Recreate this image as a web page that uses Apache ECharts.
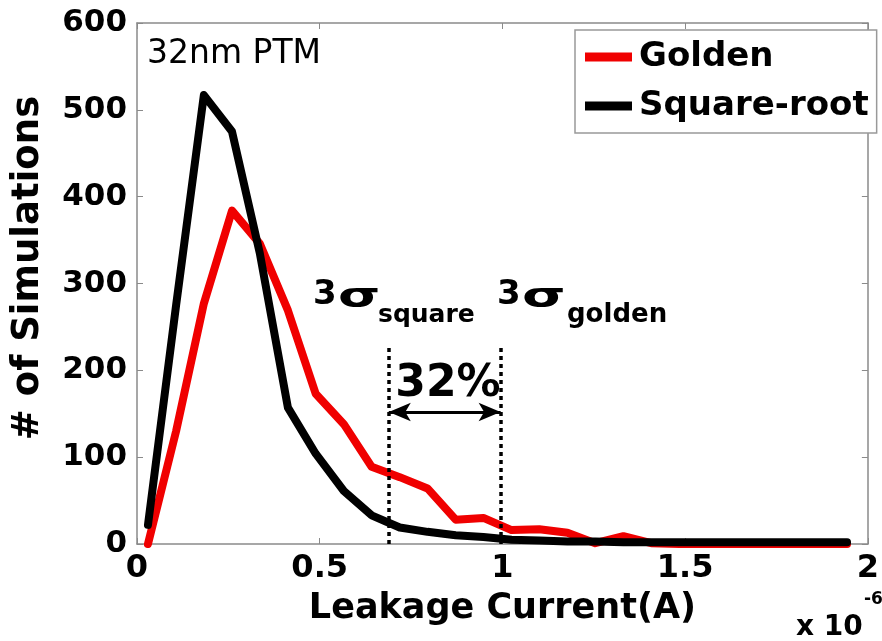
<!DOCTYPE html>
<html>
<head>
<meta charset="utf-8">
<script src="https://cdn.jsdelivr.net/npm/echarts@6/dist/echarts.min.js"></script>
<style>
  html, body { margin: 0; padding: 0; background: #fff; }
  #chart { width: 882px; height: 641px; }
</style>
</head>
<body>
<div id="chart"></div>
<script>
// Leakage current histogram bin centres (x 1e-6 A)
const current = [0.03, 0.107, 0.183, 0.26, 0.336, 0.413, 0.489, 0.566, 0.642, 0.719,
                 0.795, 0.872, 0.948, 1.025, 1.101, 1.178, 1.254, 1.331, 1.407, 1.484,
                 1.56, 1.637, 1.713, 1.79, 1.866, 1.943];
// Number of simulations per bin
const golden = [0, 130, 277, 384, 346, 269, 173, 138, 89, 77,
                64, 28, 30, 16, 17, 13, 1, 9, 1, 0,
                0, 0, 0, 0, 0, 0];
const squareRoot = [22, 275, 517, 475, 335, 157, 104, 61, 33, 19,
                    14, 10, 8, 5, 4, 3, 3, 2, 2, 2,
                    2, 2, 2, 2, 2, 2];
const seriesNames = ['Golden', 'Square-root'];
const xTicks = [0, 0.5, 1, 1.5, 2];
const yTicks = [0, 100, 200, 300, 400, 500, 600];

// 3-sigma markers and the gap between them
const sigmaSquare = 0.689;
const sigmaGolden = 0.995;
const sigmaLineTop = 229;
const arrowLevel = 152;

const FONT = 'DejaVu Sans';
const axisGray = '#8a8a8a';

const pairs = (xs, ys) => xs.map((x, i) => [x, ys[i]]);

const chart = echarts.init(document.getElementById('chart'), null, { renderer: 'canvas' });

const baseX = {
  type: 'value', min: xTicks[0], max: xTicks[xTicks.length - 1], interval: 0.5,
  splitLine: { show: false },
  axisLine: { show: true, onZero: false, lineStyle: { color: axisGray, width: 1.5 } },
  axisTick: { show: true, inside: true, length: 6, lineStyle: { color: axisGray } }
};
const baseY = {
  type: 'value', min: yTicks[0], max: yTicks[yTicks.length - 1], interval: 100,
  splitLine: { show: false },
  axisLine: { show: true, onZero: false, lineStyle: { color: axisGray, width: 1.5 } },
  axisTick: { show: true, inside: true, length: 6, lineStyle: { color: axisGray } }
};

// bold annotation text helper
const bold = (text, x, y, size, extra) => Object.assign({
  type: 'text', x: x, y: y,
  style: { text: text, fontFamily: FONT, fontWeight: 'bold', fontSize: size, fill: '#000', verticalAlign: 'middle' }
}, extra || {});

chart.setOption({
  animation: false,
  backgroundColor: '#ffffff',
  grid: { left: 137, right: 5, top: 23, bottom: 97, containLabel: false },
  legend: {
    data: seriesNames,
    orient: 'vertical',
    left: 575, top: 30,
    padding: [10, 8, 10, 10],
    itemGap: 15,
    itemWidth: 47, itemHeight: 9,
    icon: 'rect',
    borderColor: '#999', borderWidth: 1.5,
    backgroundColor: '#fff',
    textStyle: { fontFamily: FONT, fontWeight: 'bold', fontSize: 34, color: '#000', padding: [0, 0, 0, 2] }
  },
  xAxis: [
    Object.assign({}, baseX, {
      position: 'bottom',
      axisLabel: {
        margin: 9, fontFamily: FONT, fontWeight: 'bold', fontSize: 32, color: '#000',
        formatter: v => String(v)
      },
      name: 'Leakage Current(A)', nameLocation: 'middle', nameGap: 47,
      nameTextStyle: { fontFamily: FONT, fontWeight: 'bold', fontSize: 35, color: '#000', padding: [0, 0, 0, 0] }
    }),
    Object.assign({}, baseX, { position: 'top', axisLabel: { show: false } })
  ],
  yAxis: [
    Object.assign({}, baseY, {
      position: 'left',
      axisLabel: { margin: 10, fontFamily: FONT, fontWeight: 'bold', fontSize: 31, color: '#000' }
    }),
    Object.assign({}, baseY, { position: 'right', axisLabel: { show: false } })
  ],
  series: [
    {
      name: seriesNames[0], type: 'line', data: pairs(current, golden),
      xAxisIndex: 0, yAxisIndex: 0,
      showSymbol: false, symbol: 'none',
      color: '#f00000',
      lineStyle: { color: '#f00000', width: 8, join: 'round', cap: 'round' },
      z: 2
    },
    {
      name: seriesNames[1], type: 'line', data: pairs(current, squareRoot),
      xAxisIndex: 0, yAxisIndex: 0,
      showSymbol: false, symbol: 'none',
      color: '#000000',
      lineStyle: { color: '#000000', width: 8, join: 'round', cap: 'round' },
      z: 3,
      markLine: {
        silent: true,
        symbol: ['none', 'none'],
        label: { show: false },
        lineStyle: { color: '#000', width: 3.5, type: [4, 4] },
        data: [
          [{ coord: [sigmaSquare, 0] }, { coord: [sigmaSquare, sigmaLineTop] }],
          [{ coord: [sigmaGolden, 0] }, { coord: [sigmaGolden, sigmaLineTop] }],
          [
            { coord: [sigmaSquare, arrowLevel], symbol: 'arrow', symbolSize: [14, 22],
              lineStyle: { type: 'solid', width: 3 } },
            { coord: [sigmaGolden, arrowLevel], symbol: 'arrow', symbolSize: [14, 22] }
          ]
        ]
      }
    }
  ],
  graphic: [
    { type: 'text', left: 147, top: 38,
      style: { text: '32nm PTM', fontFamily: FONT, fontSize: 33, fill: '#000' } },
    bold('3', 313, 295, 34),
    bold('σ', 338, 298, 34, { scaleX: 1.6 }),
    bold('square', 378, 315, 25),
    bold('3', 497, 295, 34),
    bold('σ', 522, 298, 34, { scaleX: 1.65 }),
    bold('golden', 567, 315, 26),
    { type: 'text', x: 448, y: 385,
      style: { text: '32%', fontFamily: FONT, fontWeight: 'bold', fontSize: 44, fill: '#000', align: 'center', verticalAlign: 'middle' } },
    { type: 'text', rotation: Math.PI / 2, x: 28, y: 268,
      style: { text: '# of Simulations', fontFamily: FONT, fontWeight: 'bold', fontSize: 37, fill: '#000', align: 'center', verticalAlign: 'middle' } },
    bold('x 10', 796, 628, 28),
    bold('-6', 864, 600, 17)
  ]
});
</script>
</body>
</html>
